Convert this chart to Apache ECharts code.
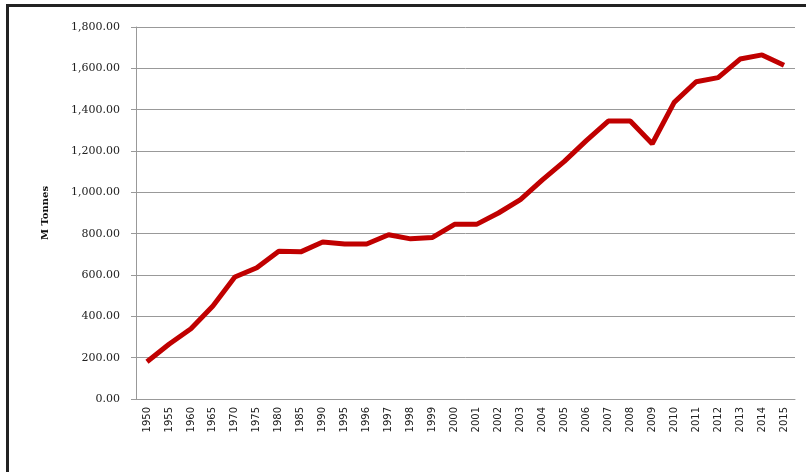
<!DOCTYPE html>
<html><head><meta charset="utf-8">
<script src="https://cdn.jsdelivr.net/npm/echarts@6/dist/echarts.min.js"></script>
<style>
body{margin:0;background:#fff}
#frame{position:absolute;left:6px;top:4px;width:806px;height:480px;border:3px solid #222;box-sizing:border-box}
#chart{position:absolute;left:0;top:0;width:806px;height:472px}
</style></head><body>
<div id="frame"></div>
<div id="chart"></div>
<script>
const years = ["1950","1955","1960","1965","1970","1975","1980","1985","1990","1995","1996","1997","1998","1999","2000","2001","2002","2003","2004","2005","2006","2007","2008","2009","2010","2011","2012","2013","2014","2015"];
const tonnes = [180,265,340,450,590,635,715,712,760,750,750,795,775,782,845,845,900,965,1060,1150,1250,1345,1345,1235,1435,1535,1555,1645,1665,1615];

const chart = echarts.init(document.getElementById('chart'));
chart.setOption({
  animation:false,
  grid:{left:136,right:11,top:27,bottom:73},
  xAxis:{
    type:"category",
    data:years,
    axisLine:{lineStyle:{color:"#999"}},
    axisTick:{interval:4,length:5,lineStyle:{color:"#999"}},
    axisLabel:{interval:0,rotate:90,color:"#222",fontFamily:"DejaVu Sans",fontSize:10,margin:8}
  },
  yAxis:{
    type:"value",min:0,max:1800,interval:200,
    name:"M Tonnes",nameLocation:"middle",nameGap:86,nameRotate:90,
    nameTextStyle:{fontFamily:"DejaVu Serif",fontWeight:"bold",fontSize:10,color:"#111"},
    axisLine:{show:true,lineStyle:{color:"#999"}},
    axisTick:{show:true,length:5,lineStyle:{color:"#999"}},
    splitLine:{lineStyle:{color:"#999"}},
    axisLabel:{color:"#222",fontFamily:"DejaVu Serif",fontSize:11,margin:16,
      formatter:v=>v.toLocaleString("en-US",{minimumFractionDigits:2,maximumFractionDigits:2})}
  },
  series:[{type:"line",data:tonnes,symbol:"none",lineStyle:{color:"#c00000",width:5}}]
});
</script>
</body></html>
